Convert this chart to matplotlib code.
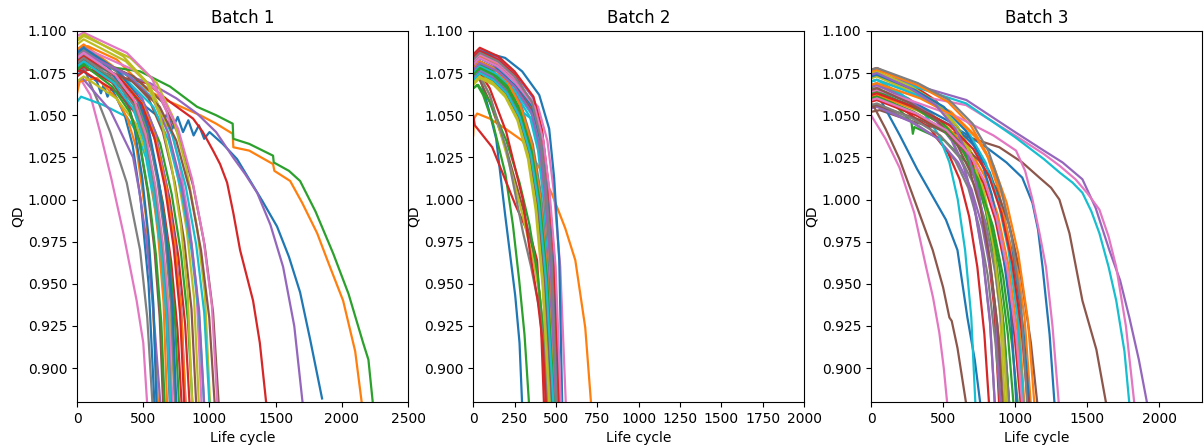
import matplotlib
matplotlib.use("Agg")
import matplotlib.pyplot as plt

# Discharge capacity (QD) vs cycle, knots
# each entry: (cycles, qd)
batch1_curves = [
    ([0, 100, 300, 450, 520, 600, 640, 680, 720, 760, 800, 840, 880, 920, 960, 1000, 1100, 1208, 1300, 1400, 1510, 1600, 1684, 1760, 1850],
     [1.078, 1.077, 1.070, 1.062, 1.055, 1.050, 1.044, 1.051, 1.042, 1.049, 1.040, 1.047, 1.038, 1.044, 1.036, 1.040, 1.033, 1.024, 1.012, 0.999, 0.984, 0.966, 0.945, 0.917, 0.882]),
    ([0, 80, 300, 529, 700, 929, 1050, 1175, 1180, 1300, 1480, 1490, 1609, 1700, 1813, 1900, 2009, 2100, 2152],
     [1.088, 1.091, 1.083, 1.065, 1.058, 1.050, 1.045, 1.039, 1.031, 1.029, 1.021, 1.017, 1.011, 0.998, 0.980, 0.962, 0.940, 0.910, 0.878]),
    ([0, 100, 300, 476, 702, 906, 1050, 1175, 1180, 1300, 1480, 1485, 1600, 1684, 1800, 1934, 2050, 2160, 2200, 2235],
     [1.077, 1.082, 1.078, 1.076, 1.067, 1.055, 1.050, 1.045, 1.036, 1.033, 1.026, 1.022, 1.017, 1.011, 0.993, 0.968, 0.944, 0.915, 0.905, 0.878]),
    ([0, 100, 300, 529, 700, 876, 950, 1027, 1080, 1133, 1180, 1231, 1329, 1380, 1430],
     [1.076, 1.077, 1.073, 1.069, 1.058, 1.048, 1.040, 1.029, 1.021, 1.010, 0.992, 0.970, 0.940, 0.915, 0.878]),
    ([0, 50, 200, 400, 551, 750, 906, 1050, 1178, 1270, 1360, 1460, 1556, 1640, 1705],
     [1.082, 1.085, 1.080, 1.073, 1.069, 1.060, 1.051, 1.040, 1.025, 1.015, 1.004, 0.985, 0.960, 0.925, 0.878]),
    ([0, 50, 428, 642, 770, 877, 963, 1027, 1070],
     [1.083, 1.086, 1.073, 1.058, 1.038, 1.008, 0.973, 0.933, 0.878]),
    ([0, 30, 100, 174, 260, 350, 450, 500, 530],
     [1.068, 1.071, 1.062, 1.040, 1.012, 0.980, 0.940, 0.915, 0.878]),
    ([0, 30, 98, 170, 250, 375, 476, 530, 570],
     [1.080, 1.083, 1.069, 1.056, 1.040, 1.010, 0.970, 0.930, 0.878]),
    ([0, 50, 402, 603, 724, 824, 905, 965, 1005],
     [1.094, 1.097, 1.084, 1.069, 1.049, 1.019, 0.984, 0.944, 0.878]),
    ([0, 30, 200, 375, 450, 520, 600, 670, 720],
     [1.058, 1.061, 1.056, 1.049, 1.040, 1.025, 0.990, 0.940, 0.878]),
    ([0, 50, 150, 180, 200, 230, 260, 300, 360, 420, 480, 540, 585],
     [1.074, 1.076, 1.070, 1.063, 1.068, 1.061, 1.066, 1.060, 1.050, 1.032, 1.000, 0.950, 0.878]),
    ([0, 20, 150, 300, 380, 450, 520, 570, 612],
     [1.063, 1.070, 1.072, 1.060, 1.048, 1.030, 0.990, 0.940, 0.878]),
    ([0, 50, 349, 523, 628, 715, 785, 837, 872],
     [1.078, 1.081, 1.068, 1.053, 1.033, 1.003, 0.968, 0.928, 0.878]),
    ([0, 50, 316, 474, 569, 648, 711, 758, 790],
     [1.073, 1.076, 1.063, 1.048, 1.028, 0.998, 0.963, 0.923, 0.878]),
    ([0, 40, 250, 423, 470, 520, 570, 630],
     [1.070, 1.072, 1.053, 1.025, 1.005, 0.978, 0.940, 0.878]),
    ([0, 50, 360, 540, 648, 738, 810, 864, 900],
     [1.085, 1.088, 1.075, 1.060, 1.040, 1.010, 0.975, 0.935, 0.878]),
    ([0, 50, 376, 564, 677, 771, 846, 902, 940],
     [1.097, 1.099, 1.087, 1.072, 1.052, 1.022, 0.987, 0.947, 0.878]),
    ([0, 50, 280, 420, 504, 574, 630, 672, 700],
     [1.083, 1.086, 1.073, 1.058, 1.038, 1.008, 0.973, 0.933, 0.878]),
    ([0, 50, 296, 444, 533, 607, 666, 710, 740],
     [1.070, 1.073, 1.060, 1.045, 1.025, 0.995, 0.960, 0.920, 0.878]),
    ([0, 50, 400, 600, 720, 820, 900, 960, 1000],
     [1.083, 1.086, 1.073, 1.058, 1.038, 1.008, 0.973, 0.933, 0.878]),
    ([0, 50, 240, 360, 432, 492, 540, 576, 600],
     [1.088, 1.091, 1.078, 1.063, 1.043, 1.013, 0.978, 0.938, 0.878]),
    ([0, 50, 272, 408, 490, 558, 612, 653, 680],
     [1.089, 1.092, 1.079, 1.064, 1.044, 1.014, 0.979, 0.939, 0.878]),
    ([0, 50, 308, 462, 554, 631, 693, 739, 770],
     [1.079, 1.082, 1.069, 1.054, 1.034, 1.004, 0.969, 0.929, 0.878]),
    ([0, 50, 340, 510, 612, 697, 765, 816, 850],
     [1.076, 1.079, 1.066, 1.051, 1.031, 1.001, 0.966, 0.926, 0.878]),
    ([0, 50, 328, 492, 590, 672, 738, 787, 820],
     [1.085, 1.088, 1.075, 1.060, 1.040, 1.010, 0.975, 0.935, 0.878]),
    ([0, 50, 260, 390, 468, 533, 585, 624, 650],
     [1.080, 1.083, 1.070, 1.055, 1.035, 1.005, 0.970, 0.930, 0.878]),
    ([0, 50, 424, 636, 763, 869, 954, 1018, 1060],
     [1.087, 1.090, 1.077, 1.062, 1.042, 1.012, 0.977, 0.937, 0.878]),
    ([0, 50, 296, 444, 533, 607, 666, 710, 740],
     [1.086, 1.089, 1.076, 1.061, 1.041, 1.011, 0.976, 0.936, 0.878]),
    ([0, 50, 368, 552, 662, 754, 828, 883, 920],
     [1.092, 1.095, 1.082, 1.067, 1.047, 1.017, 0.982, 0.942, 0.878]),
    ([0, 50, 384, 576, 691, 787, 864, 922, 960],
     [1.080, 1.083, 1.070, 1.055, 1.035, 1.005, 0.970, 0.930, 0.878]),
    ([0, 50, 300, 450, 540, 615, 675, 720, 750],
     [1.087, 1.090, 1.077, 1.062, 1.042, 1.012, 0.977, 0.937, 0.878]),
    ([0, 50, 328, 492, 590, 672, 738, 787, 820],
     [1.082, 1.085, 1.072, 1.057, 1.037, 1.007, 0.972, 0.932, 0.878]),
    ([0, 50, 265, 397, 477, 543, 596, 636, 662],
     [1.077, 1.080, 1.067, 1.052, 1.032, 1.002, 0.967, 0.927, 0.878]),
    ([0, 50, 324, 486, 583, 664, 729, 778, 810],
     [1.082, 1.085, 1.072, 1.057, 1.037, 1.007, 0.972, 0.932, 0.878]),
    ([0, 50, 384, 576, 691, 787, 864, 922, 960],
     [1.084, 1.087, 1.074, 1.059, 1.039, 1.009, 0.974, 0.934, 0.878]),
    ([0, 50, 416, 624, 749, 853, 936, 998, 1040],
     [1.080, 1.083, 1.070, 1.055, 1.035, 1.005, 0.970, 0.930, 0.878]),
    ([0, 50, 288, 432, 518, 590, 648, 691, 720],
     [1.084, 1.087, 1.074, 1.059, 1.039, 1.009, 0.974, 0.934, 0.878]),
    ([0, 50, 284, 426, 511, 582, 639, 682, 710],
     [1.081, 1.084, 1.071, 1.056, 1.036, 1.006, 0.971, 0.931, 0.878]),
    ([0, 50, 348, 522, 626, 713, 783, 835, 870],
     [1.095, 1.098, 1.085, 1.070, 1.050, 1.020, 0.985, 0.945, 0.878]),
    ([0, 50, 282, 423, 508, 578, 635, 677, 705],
     [1.079, 1.082, 1.069, 1.054, 1.034, 1.004, 0.969, 0.929, 0.878]),
]

batch2_curves = [
    ([0, 30, 48, 90, 139, 193, 254, 280, 296],
     [1.072, 1.073, 1.070, 1.055, 1.036, 0.991, 0.943, 0.915, 0.878]),
    ([0, 5, 24, 100, 195, 296, 399, 477, 556, 617, 677, 713],
     [1.038, 1.048, 1.051, 1.048, 1.042, 1.035, 1.019, 1.003, 0.983, 0.964, 0.924, 0.878]),
    ([0, 25, 60, 120, 195, 240, 278, 310, 338],
     [1.066, 1.068, 1.062, 1.045, 1.015, 0.985, 0.952, 0.920, 0.878]),
    ([0, 10, 115, 254, 356, 386, 410, 428],
     [1.050, 1.044, 1.031, 0.997, 0.975, 0.964, 0.925, 0.878]),
    ([0, 40, 150, 250, 364, 416, 452, 489, 520],
     [1.085, 1.089, 1.084, 1.075, 1.060, 1.040, 1.010, 0.965, 0.878]),
    ([0, 30, 100, 200, 300, 360, 400, 430, 455],
     [1.070, 1.073, 1.058, 1.030, 0.995, 0.970, 0.945, 0.915, 0.878]),
    ([0, 40, 150, 250, 392, 448, 487, 526, 560],
     [1.080, 1.084, 1.079, 1.070, 1.055, 1.035, 1.005, 0.960, 0.878]),
    ([0, 40, 125, 210, 290, 360, 410, 455, 500],
     [1.078, 1.082, 1.078, 1.070, 1.056, 1.033, 1.003, 0.958, 0.878]),
    ([0, 30, 100, 224, 300, 363, 400, 430, 450],
     [1.073, 1.076, 1.062, 1.019, 0.990, 0.964, 0.945, 0.915, 0.878]),
    ([0, 40, 150, 240, 250, 260, 343, 392, 426, 461, 490],
     [1.074, 1.078, 1.073, 1.066, 1.056, 1.062, 1.049, 1.029, 0.999, 0.954, 0.878]),
    ([0, 40, 193, 296, 399, 459, 489, 520, 538],
     [1.082, 1.088, 1.084, 1.076, 1.062, 1.042, 1.013, 0.964, 0.878]),
    ([0, 40, 118, 197, 273, 338, 385, 428, 470],
     [1.072, 1.076, 1.072, 1.064, 1.050, 1.027, 0.997, 0.952, 0.878]),
    ([0, 30, 100, 200, 280, 340, 390, 420, 445],
     [1.066, 1.068, 1.058, 1.035, 1.010, 0.985, 0.955, 0.925, 0.878]),
    ([0, 40, 150, 250, 343, 392, 426, 461, 490],
     [1.084, 1.088, 1.083, 1.074, 1.059, 1.039, 1.009, 0.964, 0.878]),
    ([0, 40, 120, 202, 278, 346, 394, 437, 480],
     [1.080, 1.084, 1.080, 1.072, 1.058, 1.035, 1.005, 0.960, 0.878]),
    ([0, 40, 115, 193, 267, 331, 377, 419, 460],
     [1.075, 1.079, 1.075, 1.067, 1.053, 1.030, 1.000, 0.955, 0.878]),
    ([0, 40, 150, 250, 357, 408, 444, 479, 510],
     [1.082, 1.086, 1.081, 1.072, 1.057, 1.037, 1.007, 0.962, 0.878]),
    ([0, 30, 100, 200, 302, 350, 400, 430, 450],
     [1.072, 1.075, 1.062, 1.030, 0.980, 0.960, 0.935, 0.910, 0.878]),
    ([0, 40, 118, 197, 273, 338, 385, 428, 470],
     [1.070, 1.074, 1.070, 1.062, 1.048, 1.025, 0.995, 0.950, 0.878]),
    ([0, 40, 150, 245, 255, 350, 400, 435, 470, 500],
     [1.073, 1.077, 1.072, 1.064, 1.055, 1.048, 1.028, 0.998, 0.953, 0.878]),
    ([0, 40, 150, 250, 368, 420, 457, 494, 525],
     [1.078, 1.082, 1.077, 1.068, 1.053, 1.033, 1.003, 0.958, 0.878]),
    ([0, 40, 150, 250, 347, 396, 431, 465, 495],
     [1.081, 1.085, 1.080, 1.071, 1.056, 1.036, 1.006, 0.961, 0.878]),
    ([0, 40, 121, 204, 281, 349, 398, 441, 485],
     [1.076, 1.080, 1.076, 1.068, 1.054, 1.031, 1.001, 0.956, 0.878]),
    ([0, 30, 100, 200, 300, 344, 390, 420, 440],
     [1.074, 1.077, 1.066, 1.040, 1.000, 0.968, 0.940, 0.915, 0.878]),
    ([0, 40, 125, 210, 290, 360, 410, 455, 500],
     [1.072, 1.076, 1.072, 1.064, 1.050, 1.027, 0.997, 0.952, 0.878]),
    ([0, 40, 150, 250, 361, 412, 448, 484, 515],
     [1.077, 1.081, 1.076, 1.067, 1.052, 1.032, 1.002, 0.957, 0.878]),
    ([0, 40, 150, 250, 364, 416, 452, 489, 520],
     [1.082, 1.086, 1.081, 1.072, 1.057, 1.037, 1.007, 0.962, 0.878]),
    ([0, 40, 119, 200, 276, 342, 390, 432, 475],
     [1.074, 1.078, 1.074, 1.066, 1.052, 1.029, 0.999, 0.954, 0.878]),
    ([0, 40, 124, 208, 287, 356, 406, 450, 495],
     [1.068, 1.072, 1.068, 1.060, 1.046, 1.023, 0.993, 0.948, 0.878]),
    ([0, 40, 150, 250, 357, 408, 444, 479, 510],
     [1.075, 1.079, 1.074, 1.065, 1.050, 1.030, 1.000, 0.955, 0.878]),
    ([0, 40, 150, 250, 357, 408, 444, 479, 510],
     [1.080, 1.084, 1.079, 1.070, 1.055, 1.035, 1.005, 0.960, 0.878]),
    ([0, 40, 123, 206, 284, 353, 402, 446, 490],
     [1.078, 1.082, 1.078, 1.070, 1.056, 1.033, 1.003, 0.958, 0.878]),
    ([0, 40, 123, 206, 284, 353, 402, 446, 490],
     [1.074, 1.078, 1.074, 1.066, 1.052, 1.029, 0.999, 0.954, 0.878]),
    ([0, 40, 150, 250, 364, 416, 452, 489, 520],
     [1.086, 1.090, 1.085, 1.076, 1.061, 1.041, 1.011, 0.966, 0.878]),
    ([0, 40, 150, 250, 350, 400, 435, 470, 500],
     [1.077, 1.081, 1.076, 1.067, 1.052, 1.032, 1.002, 0.957, 0.878]),
    ([0, 40, 120, 202, 278, 346, 394, 437, 480],
     [1.071, 1.075, 1.071, 1.063, 1.049, 1.026, 0.996, 0.951, 0.878]),
    ([0, 40, 150, 250, 371, 424, 461, 498, 530],
     [1.080, 1.084, 1.079, 1.070, 1.055, 1.035, 1.005, 0.960, 0.878]),
    ([0, 40, 150, 250, 354, 404, 439, 475, 505],
     [1.083, 1.087, 1.082, 1.073, 1.058, 1.038, 1.008, 0.963, 0.878]),
    ([0, 40, 115, 193, 267, 331, 377, 419, 460],
     [1.069, 1.073, 1.069, 1.061, 1.047, 1.024, 0.994, 0.949, 0.878]),
    ([0, 40, 121, 204, 281, 349, 398, 441, 485],
     [1.071, 1.075, 1.071, 1.063, 1.049, 1.026, 0.996, 0.951, 0.878]),
]

batch3_curves = [
    ([0, 60, 300, 600, 800, 940, 1050, 1121, 1160, 1191, 1240, 1275],
     [1.062, 1.063, 1.055, 1.042, 1.031, 1.022, 1.013, 0.998, 0.982, 0.960, 0.920, 0.878]),
    ([0, 40, 333, 555, 722, 833, 921, 999, 1066, 1110],
     [1.070, 1.071, 1.062, 1.052, 1.038, 1.022, 1.000, 0.970, 0.930, 0.878]),
    ([0, 40, 280, 290, 300, 510, 663, 765, 847, 918, 979, 1020],
     [1.066, 1.067, 1.046, 1.039, 1.043, 1.035, 1.022, 1.006, 0.984, 0.954, 0.914, 0.878]),
    ([0, 40, 267, 445, 579, 668, 739, 801, 854, 890],
     [1.077, 1.078, 1.069, 1.059, 1.045, 1.029, 1.007, 0.977, 0.937, 0.878]),
    ([0, 40, 300, 662, 1000, 1200, 1330, 1468, 1560, 1655, 1730, 1794, 1860, 1920],
     [1.073, 1.075, 1.068, 1.059, 1.040, 1.029, 1.022, 1.012, 0.995, 0.970, 0.952, 0.930, 0.905, 0.878]),
    ([0, 60, 300, 600, 891, 1050, 1169, 1250, 1308, 1378, 1468, 1565, 1635],
     [1.052, 1.053, 1.046, 1.039, 1.031, 1.022, 1.013, 1.007, 1.000, 0.980, 0.940, 0.911, 0.878]),
    ([0, 40, 300, 660, 1000, 1200, 1310, 1420, 1500, 1586, 1650, 1703, 1770, 1830],
     [1.065, 1.067, 1.062, 1.056, 1.038, 1.027, 1.020, 1.012, 1.004, 0.994, 0.978, 0.960, 0.925, 0.878]),
    ([0, 40, 270, 450, 585, 675, 747, 810, 864, 900],
     [1.055, 1.056, 1.047, 1.037, 1.023, 1.007, 0.985, 0.955, 0.915, 0.878]),
    ([0, 40, 285, 475, 618, 713, 789, 855, 912, 950],
     [1.073, 1.074, 1.065, 1.055, 1.041, 1.025, 1.003, 0.973, 0.933, 0.878]),
    ([0, 40, 300, 660, 1000, 1200, 1310, 1400, 1468, 1530, 1586, 1650, 1703, 1760, 1795],
     [1.072, 1.074, 1.067, 1.057, 1.037, 1.024, 1.016, 1.010, 1.004, 0.993, 0.980, 0.960, 0.940, 0.910, 0.878]),
    ([0, 60, 200, 320, 440, 520, 600, 669, 720, 760],
     [1.063, 1.060, 1.038, 1.018, 1.000, 0.988, 0.970, 0.930, 0.905, 0.878]),
    ([0, 40, 318, 530, 689, 795, 880, 954, 1018, 1060],
     [1.061, 1.062, 1.053, 1.043, 1.029, 1.013, 0.991, 0.961, 0.921, 0.878]),
    ([0, 40, 288, 480, 624, 720, 797, 864, 922, 960],
     [1.065, 1.066, 1.057, 1.047, 1.033, 1.017, 0.995, 0.965, 0.925, 0.878]),
    ([0, 40, 246, 410, 533, 615, 681, 738, 787, 820],
     [1.060, 1.061, 1.052, 1.042, 1.028, 1.012, 0.990, 0.960, 0.920, 0.878]),
    ([0, 40, 279, 465, 605, 698, 772, 837, 893, 930],
     [1.054, 1.055, 1.046, 1.036, 1.022, 1.006, 0.984, 0.954, 0.914, 0.878]),
    ([0, 20, 100, 197, 300, 428, 500, 544, 560, 600, 662],
     [1.057, 1.055, 1.042, 1.024, 1.000, 0.970, 0.948, 0.930, 0.928, 0.912, 0.878]),
    ([0, 100, 197, 300, 382, 430, 474, 505, 530],
     [1.050, 1.036, 1.019, 0.992, 0.960, 0.942, 0.921, 0.900, 0.878]),
    ([0, 40, 258, 430, 559, 645, 714, 774, 826, 860],
     [1.068, 1.069, 1.060, 1.050, 1.036, 1.020, 0.998, 0.968, 0.928, 0.878]),
    ([0, 40, 279, 465, 605, 698, 772, 837, 893, 930],
     [1.075, 1.076, 1.067, 1.057, 1.043, 1.027, 1.005, 0.975, 0.935, 0.878]),
    ([0, 40, 218, 363, 471, 544, 602, 653, 696, 725],
     [1.070, 1.071, 1.062, 1.052, 1.038, 1.022, 1.000, 0.970, 0.930, 0.878]),
    ([0, 40, 330, 550, 715, 825, 913, 990, 1056, 1100],
     [1.064, 1.065, 1.056, 1.046, 1.032, 1.016, 0.994, 0.964, 0.924, 0.878]),
    ([0, 40, 320, 533, 692, 799, 884, 959, 1022, 1065],
     [1.076, 1.077, 1.068, 1.058, 1.044, 1.028, 1.006, 0.976, 0.936, 0.878]),
    ([0, 40, 288, 480, 624, 720, 797, 864, 922, 960],
     [1.063, 1.064, 1.055, 1.045, 1.031, 1.015, 0.993, 0.963, 0.923, 0.878]),
    ([0, 40, 312, 520, 676, 780, 863, 936, 998, 1040],
     [1.058, 1.059, 1.050, 1.040, 1.026, 1.010, 0.988, 0.958, 0.918, 0.878]),
    ([0, 40, 258, 430, 559, 645, 714, 774, 826, 860],
     [1.067, 1.068, 1.059, 1.049, 1.035, 1.019, 0.997, 0.967, 0.927, 0.878]),
    ([0, 40, 347, 578, 751, 867, 959, 1040, 1110, 1156],
     [1.055, 1.056, 1.047, 1.037, 1.023, 1.007, 0.985, 0.955, 0.915, 0.878]),
    ([0, 40, 300, 600, 850, 1007, 1070, 1121, 1170, 1215, 1260, 1305],
     [1.064, 1.065, 1.058, 1.049, 1.038, 1.029, 1.017, 1.000, 0.980, 0.960, 0.925, 0.878]),
    ([0, 40, 288, 480, 624, 720, 797, 864, 922, 960],
     [1.056, 1.057, 1.048, 1.038, 1.024, 1.008, 0.986, 0.956, 0.916, 0.878]),
    ([0, 40, 284, 473, 614, 709, 784, 851, 907, 945],
     [1.072, 1.073, 1.064, 1.054, 1.040, 1.024, 1.002, 0.972, 0.932, 0.878]),
    ([0, 40, 318, 530, 689, 795, 880, 954, 1018, 1060],
     [1.070, 1.071, 1.062, 1.052, 1.038, 1.022, 1.000, 0.970, 0.930, 0.878]),
    ([0, 40, 303, 505, 657, 758, 838, 909, 970, 1010],
     [1.073, 1.074, 1.065, 1.055, 1.041, 1.025, 1.003, 0.973, 0.933, 0.878]),
    ([0, 40, 341, 568, 738, 851, 942, 1022, 1090, 1135],
     [1.068, 1.069, 1.060, 1.050, 1.036, 1.020, 0.998, 0.968, 0.928, 0.878]),
    ([0, 40, 297, 495, 644, 743, 822, 891, 950, 990],
     [1.060, 1.061, 1.052, 1.042, 1.028, 1.012, 0.990, 0.960, 0.920, 0.878]),
    ([0, 40, 327, 545, 709, 818, 905, 981, 1046, 1090],
     [1.062, 1.063, 1.054, 1.044, 1.030, 1.014, 0.992, 0.962, 0.922, 0.878]),
    ([0, 40, 270, 450, 585, 675, 747, 810, 864, 900],
     [1.074, 1.075, 1.066, 1.056, 1.042, 1.026, 1.004, 0.974, 0.934, 0.878]),
    ([0, 40, 275, 458, 595, 686, 759, 824, 878, 915],
     [1.065, 1.066, 1.057, 1.047, 1.033, 1.017, 0.995, 0.965, 0.925, 0.878]),
    ([0, 40, 315, 525, 683, 788, 872, 945, 1008, 1050],
     [1.059, 1.060, 1.051, 1.041, 1.027, 1.011, 0.989, 0.959, 0.919, 0.878]),
    ([0, 40, 326, 543, 705, 814, 901, 977, 1042, 1085],
     [1.077, 1.078, 1.069, 1.059, 1.045, 1.029, 1.007, 0.977, 0.937, 0.878]),
]

batches = [batch1_curves, batch2_curves, batch3_curves]
titles = ["Batch 1", "Batch 2", "Batch 3"]
xlims = [(0, 2500), (0, 2000), (0, 2300)]
xticks = [range(0, 2501, 500), range(0, 2001, 250), range(0, 2001, 500)]
lefts = [0.064, 0.393, 0.7235]

fig = plt.figure(figsize=(12.04, 4.48), dpi=100)

for i in range(3):
    ax = fig.add_axes([lefts[i], 0.103, 0.275, 0.828])
    for cycles, qd in batches[i]:
        ax.plot(cycles, qd, linewidth=1.6)
    ax.set_title(titles[i])
    ax.set_xlabel("Life cycle")
    ax.set_ylabel("QD", labelpad=2)
    ax.set_xticks(list(xticks[i]))
    ax.set_xlim(xlims[i])
    ax.set_ylim(0.88, 1.1)

fig.savefig("out.png", dpi=100)
